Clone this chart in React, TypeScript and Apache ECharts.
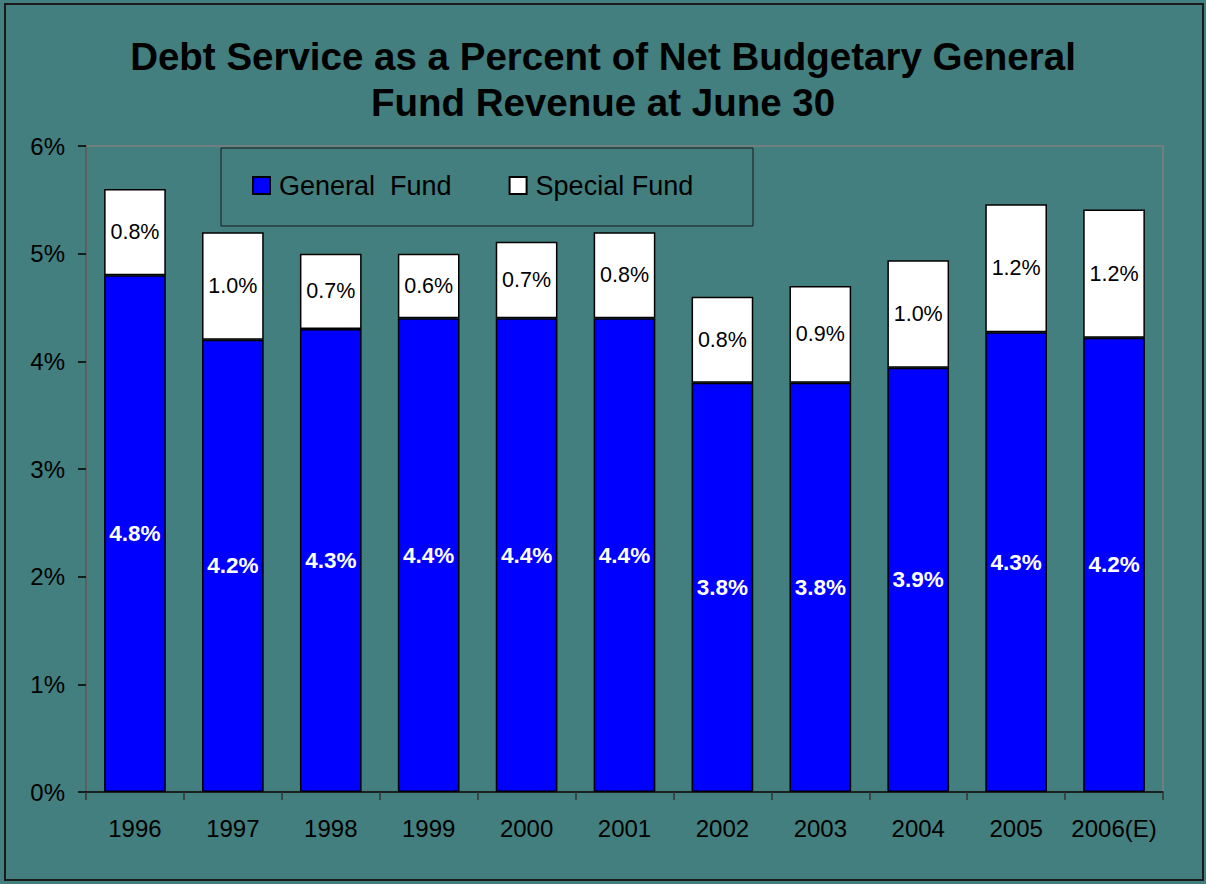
import React, { useEffect, useRef } from "react";
import * as echarts from "echarts";

const categories = ["1996", "1997", "1998", "1999", "2000", "2001", "2002", "2003", "2004", "2005", "2006(E)"];
const generalFund = [4.8, 4.2, 4.3, 4.4, 4.4, 4.4, 3.8, 3.8, 3.94, 4.27, 4.22];
const specialFund = [0.8, 1.0, 0.7, 0.6, 0.71, 0.8, 0.8, 0.9, 1.0, 1.19, 1.19];
const titleLines = ["Debt Service as a Percent of Net Budgetary General", "Fund Revenue at June 30"];

const FONT = "'Liberation Sans', Arial, sans-serif";
const BG = "#427f7e";

export default function App() {
  const ref = useRef<HTMLDivElement>(null);
  useEffect(() => {
    if (!ref.current) return;
    const chart = echarts.init(ref.current, undefined, { renderer: "svg" });
    chart.setOption({
      animation: false,
      backgroundColor: BG,
      textStyle: { fontFamily: FONT },
      title: {
        text: titleLines.join("\n"),
        left: "center",
        top: 28,
        textStyle: { fontFamily: FONT, fontSize: 38.5, fontWeight: "bold", color: "#000", lineHeight: 46 },
      },
      graphic: [
        { type: "rect", shape: { x: 5, y: 4, width: 1198, height: 876 }, style: { fill: "none", stroke: "#1a1a1a", lineWidth: 2 }, silent: true },
        { type: "rect", shape: { x: 221, y: 148, width: 532, height: 78 }, style: { fill: BG, stroke: "#1a1a1a", lineWidth: 1 }, z: 5, silent: true },
      ],
      legend: {
        left: 247,
        top: 167,
        itemWidth: 17,
        itemHeight: 17,
        itemGap: 57,
        icon: "rect",
        z: 10,
        textStyle: { fontFamily: FONT, fontSize: 27, color: "#000", padding: [0, 0, 0, 4] },
        data: ["General  Fund", "Special Fund"],
      },
      grid: { left: 86, right: 43, top: 146, bottom: 92, show: true, borderColor: "#808080", borderWidth: 1.5, backgroundColor: "transparent" },
      xAxis: {
        type: "category",
        data: categories,
        axisLine: { lineStyle: { color: "#000", width: 1.5 } },
        axisTick: { show: true, length: 8, lineStyle: { color: "#333", width: 1.5 } },
        axisLabel: { interval: 0, fontFamily: FONT, fontSize: 24, color: "#000", margin: 24 },
      },
      yAxis: {
        type: "value",
        min: 0,
        max: 6,
        interval: 1,
        axisLine: { show: true, lineStyle: { color: "#555", width: 1.5 } },
        axisTick: { show: true, length: 8, lineStyle: { color: "#000", width: 1.5 } },
        axisLabel: { fontFamily: FONT, fontSize: 24, color: "#000", margin: 21, formatter: "{value}%" },
        splitLine: { show: false },
      },
      series: [
        {
          name: "General  Fund",
          type: "bar",
          stack: "total",
          data: generalFund,
          barWidth: "63%",
          itemStyle: { color: "#0000ff", borderColor: "#000", borderWidth: 1.5 },
          label: {
            show: true,
            position: "inside",
            color: "#fff",
            fontFamily: FONT,
            fontSize: 22.5,
            fontWeight: "bold",
            formatter: (p: any) => Number(p.value).toFixed(1) + "%",
          },
        },
        {
          name: "Special Fund",
          type: "bar",
          stack: "total",
          data: specialFund,
          barWidth: "63%",
          itemStyle: { color: "#ffffff", borderColor: "#000", borderWidth: 1.5 },
          label: {
            show: true,
            position: "inside",
            color: "#000",
            fontFamily: FONT,
            fontSize: 21.5,
            formatter: (p: any) => Number(p.value).toFixed(1) + "%",
          },
        },
      ],
    });
    return () => chart.dispose();
  }, []);
  return <div ref={ref} style={{ position: "fixed", left: 0, top: 0, width: 1206, height: 884 }} />;
}
